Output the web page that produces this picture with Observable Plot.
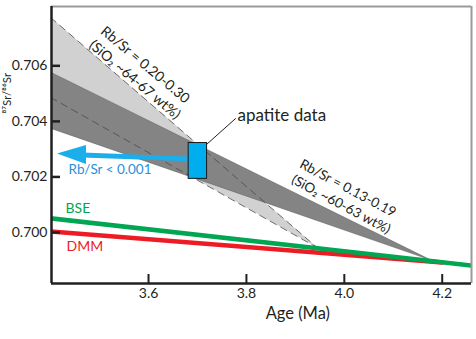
<!DOCTYPE html>
<html>
<head>
<meta charset="utf-8">
<script src="https://cdn.jsdelivr.net/npm/d3@7"></script>
<script src="https://cdn.jsdelivr.net/npm/@observablehq/plot@0.6"></script>
<style>
  html, body { margin: 0; padding: 0; background: #fff; }
  #chart { width: 476px; height: 339px; overflow: hidden; }
</style>
</head>
<body>
<div id="chart"></div>
<script>
// ---- data ----
const xTicks = [3.6, 3.8, 4.0, 4.2];
const yTicks = [0.700, 0.702, 0.704, 0.706];

// Rb/Sr = 0.20-0.30 wedge (light)
const lightAge = [3.40, 3.945];
const lightLow = [0.70486, 0.69945];
const lightHigh = [0.70774, 0.69945];

// Rb/Sr = 0.13-0.19 wedge (dark)
const darkAge = [3.40, 4.178];
const darkLow = [0.70374, 0.69899];
const darkHigh = [0.70576, 0.69899];

// evolution lines
const bseAge = [3.40, 4.26];
const bseSr = [0.70051, 0.69881];
const dmmAge = [3.40, 4.20];
const dmmSr = [0.70004, 0.69892];

// apatite box
const apatiteAge = [3.682, 3.7196];
const apatiteSr = [0.70193, 0.70322];

// arrow (Rb/Sr < 0.001)
const shaftAge = [3.682, 3.465];
const shaftSr = [0.70265, 0.70279];
const headAge = [3.414, 3.4733];
const headLow = [0.70283, 0.70245];
const headHigh = [0.70283, 0.70313];

// labels
const lightLabel = ["Rb/Sr = 0.20-0.30", "(SiO\u2082 ~64-67 wt%)"];
const lightLabelPos = [3.5176, 0.70755];
const darkLabel = ["Rb/Sr = 0.13-0.19", "(SiO\u2082 ~60-63 wt%)"];
const darkLabelPos = [3.9187, 0.70275];
const apatiteLabel = "apatite data";
const apatiteLabelPos = [3.7818, 0.70421];
const leaderAge = [3.7199, 3.7777];
const leaderSr = [0.70319, 0.70410];
const bseLabelPos = [3.4304, 0.70086];
const dmmLabelPos = [3.4325, 0.69950];
const rbLabel = "Rb/Sr < 0.001";
const rbLabelPos = [3.4366, 0.70227];
const xLabel = "Age (Ma)";
const xLabelAge = 3.905;
const yLabel = "\u2078\u2077Sr/\u2078\u2076Sr";
const yLabelSr = 0.70428;

const xDomain = [3.4018, 4.2598];
const yDomain = [0.698164, 0.708135];

// ---- build tables ----
const zip2 = (a, lo, hi) => a.map((v, i) => ({x: v, y1: lo[i], y2: hi[i]}));
const zip = (a, b) => a.map((v, i) => ({x: v, y: b[i]}));
const light = zip2(lightAge, lightLow, lightHigh);
const dark = zip2(darkAge, darkLow, darkHigh);
const bse = zip(bseAge, bseSr);
const dmm = zip(dmmAge, dmmSr);
const shaft = zip(shaftAge, shaftSr);
const head = zip2(headAge, headLow, headHigh);
const leader = zip(leaderAge, leaderSr);

const FONT = "Lato, 'Open Sans', sans-serif";
const INK = "#231f20";

const chart = Plot.plot({
  width: 476,
  height: 339,
  marginLeft: 51,
  marginRight: 5,
  marginTop: 6,
  marginBottom: 56,
  style: {fontFamily: FONT, color: INK, background: "#fff", overflow: "visible"},
  x: {domain: xDomain},
  y: {domain: yDomain},
  marks: [
    // wedges
    Plot.areaY(light, {x: "x", y1: "y1", y2: "y2", fill: "#d1d1d2", clip: true}),
    Plot.areaY(dark, {x: "x", y1: "y1", y2: "y2", fill: "#848485", stroke: "#5a5a5a", strokeWidth: 0.5, clip: true}),
    Plot.line(zip(lightAge, lightHigh), {x: "x", y: "y", stroke: "#4a4a4a", strokeWidth: 0.8, strokeDasharray: "7,5", clip: true}),
    Plot.line(zip(lightAge, lightLow), {x: "x", y: "y", stroke: "#4a4a4a", strokeWidth: 0.8, strokeDasharray: "7,5", clip: true}),
    // evolution lines
    Plot.line(dmm, {x: "x", y: "y", stroke: "#ed1c24", strokeWidth: 4.5, clip: true}),
    Plot.line(bse, {x: "x", y: "y", stroke: "#00a651", strokeWidth: 4.5, clip: true}),
    // arrow
    Plot.line(shaft, {x: "x", y: "y", stroke: "#1aaeea", strokeWidth: 5}),
    Plot.areaY(head, {x: "x", y1: "y1", y2: "y2", fill: "#1aaeea"}),
    // apatite box
    Plot.rect([0], {x1: apatiteAge[0], x2: apatiteAge[1], y1: apatiteSr[0], y2: apatiteSr[1], fill: "#00aeef", stroke: "#1a1a1a", strokeWidth: 1}),
    Plot.line(leader, {x: "x", y: "y", stroke: INK, strokeWidth: 1}),
    // frame
    Plot.ruleY([yDomain[1]], {stroke: "#9a9a9a", strokeWidth: 2}),
    Plot.ruleX([xDomain[1]], {stroke: "#9a9a9a", strokeWidth: 2}),
    Plot.ruleX([xDomain[0]], {stroke: INK, strokeWidth: 2.5}),
    Plot.ruleY([yDomain[0]], {stroke: INK, strokeWidth: 2.5}),
    // axes
    Plot.axisY({ticks: yTicks, tickFormat: ".3f", tickSize: -9, tickPadding: 13, strokeWidth: 2.5, fontSize: 14, label: null, fill: INK}),
    Plot.axisX({ticks: xTicks, tickFormat: ".1f", tickSize: -9, tickPadding: 14, strokeWidth: 2, fontSize: 14, label: null, fill: INK}),
    Plot.text([xLabel], {x: xLabelAge, frameAnchor: "bottom", dy: 30, fontSize: 16.5, fill: INK, lineAnchor: "middle"}),
    Plot.text([yLabel], {y: yLabelSr, frameAnchor: "left", dx: -41, rotate: -90, lineAnchor: "bottom", fontSize: 11.5, fill: INK}),
    // labels
    Plot.text([lightLabel.join("\n")], {x: lightLabelPos[0], y: lightLabelPos[1], rotate: 40, textAnchor: "start", lineAnchor: "top", fontSize: 14, lineHeight: 1.3, fill: INK}),
    Plot.text([darkLabel.join("\n")], {x: darkLabelPos[0], y: darkLabelPos[1], rotate: 28, textAnchor: "start", lineAnchor: "top", fontSize: 13.5, lineHeight: 1.3, fill: INK}),
    Plot.text([apatiteLabel], {x: apatiteLabelPos[0], y: apatiteLabelPos[1], textAnchor: "start", fontSize: 17, fill: INK}),
    Plot.text(["BSE"], {x: bseLabelPos[0], y: bseLabelPos[1], textAnchor: "start", fontSize: 14, fill: "#00a651"}),
    Plot.text(["DMM"], {x: dmmLabelPos[0], y: dmmLabelPos[1], textAnchor: "start", fontSize: 14, fill: "#ed1c24"}),
    Plot.text([rbLabel], {x: rbLabelPos[0], y: rbLabelPos[1], textAnchor: "start", fontSize: 13.5, fill: "#2a8fd8"})
  ]
});
document.getElementById("chart").appendChild(chart);
</script>
</body>
</html>
